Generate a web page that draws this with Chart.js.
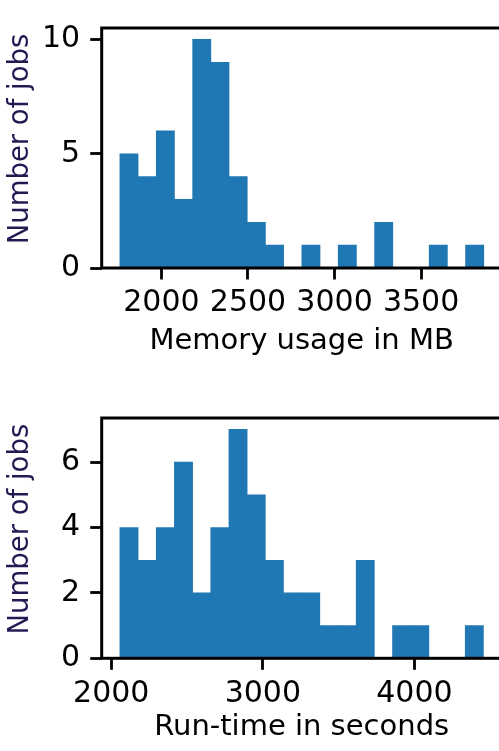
<!DOCTYPE html>
<html>
<head>
<meta charset="utf-8">
<script src="https://cdn.jsdelivr.net/npm/chart.js@4/dist/chart.umd.min.js"></script>
<style>
  html, body { margin: 0; padding: 0; background: #fff; overflow: hidden; }
  #wrap { position: relative; width: 499px; height: 751px; overflow: hidden; }
  #wrap canvas { position: absolute; left: 0; }
  #memChart { top: 0; }
  #runChart { top: 390px; }
</style>
</head>
<body>
<div id="wrap">
  <canvas id="memChart" width="520" height="390"></canvas>
  <canvas id="runChart" width="520" height="361"></canvas>
</div>
<script>
const memCounts = [5, 4, 6, 3, 10, 9, 4, 2, 1, 0, 1, 0, 1, 0, 2, 0, 0, 1, 0, 1];
const memRange  = [1760, 3862];          // borde del primer y último bin
const memXTicks = [2000, 2500, 3000, 3500];
const memYTicks = [0, 5, 10];

const runCounts = [4, 3, 4, 6, 2, 4, 7, 5, 3, 2, 2, 1, 1, 3, 0, 1, 1, 0, 0, 1];
const runRange  = [2057, 4455];
const runXTicks = [2000, 3000, 4000];
const runYTicks = [0, 2, 4, 6];

const BLUE = '#1f77b4';
const FONT = 'DejaVu Sans';
const Y_TITLE = 'Number of jobs';

// centros de cada bin (histograma de bins iguales)
const binPoints = (counts, [lo, hi]) => {
  const w = (hi - lo) / counts.length;
  return counts.map((c, i) => ({ x: lo + w * (i + 0.5), y: c }));
};

// marco completo (spines) por encima de las barras
const frame = {
  id: 'frame',
  afterDatasetsDraw(chart) {
    const { ctx, chartArea: a } = chart;
    ctx.save();
    ctx.strokeStyle = '#000';
    ctx.lineWidth = 3;
    ctx.strokeRect(a.left, a.top, a.right - a.left, a.bottom - a.top);
    ctx.restore();
  }
};

// la etiqueta vertical del original queda ~9px por encima del centro del eje
const origDrawTitle = Chart.Scale.prototype.drawTitle;
Chart.Scale.prototype.drawTitle = function () {
  if (this.axis !== 'y') return origDrawTitle.call(this);
  this.ctx.save();
  this.ctx.translate(0, -9);
  origDrawTitle.call(this);
  this.ctx.restore();
};

const buildHist = (canvasId, cfg) => {
  const canvas = document.getElementById(canvasId);
  return new Chart(canvas.getContext('2d'), {
    type: 'bar',
    data: {
      datasets: [{
        data: binPoints(cfg.counts, cfg.range),
        backgroundColor: BLUE,
        borderWidth: 0,
        barPercentage: 1,
        categoryPercentage: 1,
      }]
    },
    plugins: [frame],
    options: {
      responsive: false,
      animation: false,
      layout: { padding: { left: 0, top: 10, right: 18.4, bottom: 0 } },
      plugins: { legend: { display: false }, tooltip: { enabled: false } },
      scales: {
        x: {
          type: 'linear',
          offset: false,
          min: cfg.xMin,
          max: cfg.xMax,
          afterFit: s => { s.height = cfg.xHeight; },
          afterBuildTicks: s => { s.ticks = cfg.xTicks.map(v => ({ value: v })); },
          grid: { display: true, drawOnChartArea: false, offset: false, tickLength: 11.5, tickWidth: 2.8, tickColor: '#000' },
          border: { display: false },
          ticks: {
            color: '#000', padding: 6, maxRotation: 0, autoSkip: false,
            font: { family: FONT, size: 30 },
            callback: v => String(v)
          },
          title: {
            display: true, text: cfg.xTitle, color: '#000',
            font: { family: FONT, size: 29 },
            padding: { top: 0, bottom: cfg.xTitlePad }
          }
        },
        y: {
          min: 0,
          max: cfg.yMax,
          afterFit: s => { s.width = 101.7; },
          afterBuildTicks: s => { s.ticks = cfg.yTicks.map(v => ({ value: v })); },
          grid: { display: true, drawOnChartArea: false, tickLength: 11.5, tickWidth: 2.8, tickColor: '#000' },
          border: { display: false },
          ticks: {
            color: '#000', padding: 10,
            font: { family: FONT, size: 30 },
            callback: v => String(v)
          },
          title: {
            display: true, text: Y_TITLE, color: '#221a52',
            font: { family: FONT, size: 27.5 },
            padding: { top: 4, bottom: 0 }
          }
        }
      }
    }
  });
};

buildHist('memChart', {
  counts: memCounts, range: memRange,
  xMin: 1655, xMax: 3965, xTicks: memXTicks,
  yMax: 10.5, yTicks: memYTicks,
  xHeight: 122, xTitlePad: 31,
  xTitle: 'Memory usage in MB'
});

buildHist('runChart', {
  counts: runCounts, range: runRange,
  xMin: 1937, xMax: 4575, xTicks: runXTicks,
  yMax: 7.35, yTicks: runYTicks,
  xHeight: 92.7, xTitlePad: 6,
  xTitle: 'Run-time in seconds'
});
</script>
</body>
</html>
